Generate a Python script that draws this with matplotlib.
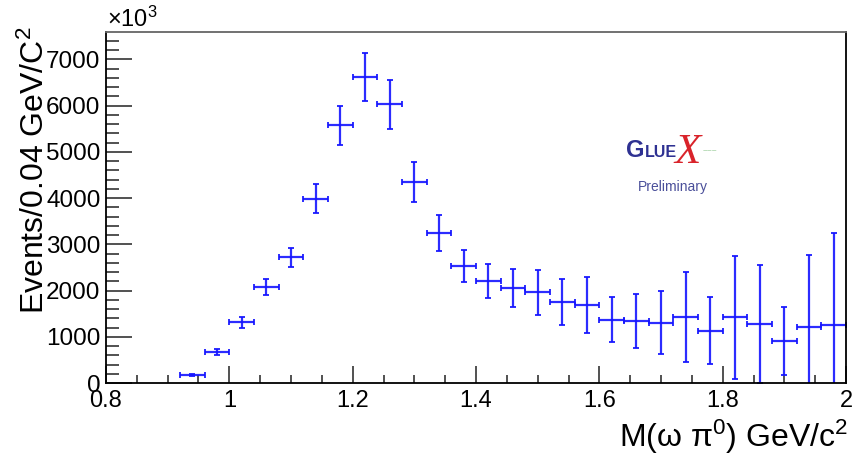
import matplotlib
matplotlib.use("Agg")
import matplotlib.pyplot as plt
from matplotlib.ticker import MultipleLocator

plt.rcParams['font.family'] = ['Liberation Sans', 'DejaVu Sans']
plt.rcParams['mathtext.fontset'] = 'custom'
plt.rcParams['mathtext.rm'] = 'Liberation Sans'
plt.rcParams['mathtext.it'] = 'Liberation Sans:italic'

# ---- data ----
mass = [0.94, 0.98, 1.02, 1.06, 1.10, 1.14, 1.18, 1.22, 1.26, 1.30, 1.34, 1.38,
        1.42, 1.46, 1.50, 1.54, 1.58, 1.62, 1.66, 1.70, 1.74, 1.78, 1.82, 1.86,
        1.90, 1.94, 1.98]
events = [173, 670, 1314, 2078, 2714, 3983, 5570, 6617, 6026, 4350, 3247, 2526,
          2216, 2050, 1963, 1753, 1682, 1372, 1342, 1307, 1422, 1134, 1422, 1270,
          903, 1206, 1249]
errors = [22, 70, 120, 176, 212, 317, 430, 520, 530, 433, 390, 350,
          368, 415, 483, 500, 600, 495, 585, 685, 968, 720, 1335, 1280,
          730, 1570, 2005]
half_bin = [0.02] * len(mass)
x_ticks = [0.8, 1.0, 1.2, 1.4, 1.6, 1.8, 2.0]
x_tick_labels = ['0.8', '1', '1.2', '1.4', '1.6', '1.8', '2']
y_ticks = [0, 1000, 2000, 3000, 4000, 5000, 6000, 7000]

fig = plt.figure(figsize=(8.55, 4.55), dpi=100)
ax = fig.add_axes([106/855, 1-383/455, (846-106)/855, (383-32)/455])

ax.errorbar(mass, events, yerr=errors, xerr=half_bin, fmt='none',
            ecolor='#1515ff', elinewidth=1.6, capsize=2.2, capthick=1.4,
            alpha=0.9)

ax.set_xlim(0.8, 2.0)
ax.set_ylim(0, 7590)
ax.set_xticks(x_ticks)
ax.set_xticklabels(x_tick_labels)
ax.set_yticks(y_ticks)
ax.set_yticklabels([str(v) for v in y_ticks])
ax.xaxis.set_minor_locator(MultipleLocator(0.05))
ax.yaxis.set_minor_locator(MultipleLocator(200))

ax.tick_params(axis='both', which='both', direction='in', top=False, right=False,
               width=1.2, colors='#333333', labelcolor='black')
ax.tick_params(axis='x', which='major', length=12, pad=5, labelsize=17)
ax.tick_params(axis='x', which='minor', length=6)
ax.tick_params(axis='y', which='major', length=19, pad=4, labelsize=17.5)
ax.tick_params(axis='y', which='minor', length=9)
for s in ax.spines.values():
    s.set_linewidth(1.3)
ax.spines['top'].set_color('#666666')

# axis titles
fig.text(848/855, 1-447/455, 'M(ω π$^{0}$) GeV/c$^{2}$', ha='right', va='baseline',
         fontsize=23)
fig.text(35/855, 1-26/455, 'Events/0.04 GeV/C$^{2}$', rotation=90, ha='center',
         va='top', fontsize=23)
fig.text(107/855, 1-27/455, '×10$^{3}$', ha='left', va='baseline', fontsize=17)

# GlueX logo
logo_blue = '#2e3192'
fig.text(626/855, 1-157/455, 'G', ha='left', va='baseline', fontsize=17,
         fontweight='bold', color=logo_blue)
fig.text(645/855, 1-157/455, 'LUE', ha='left', va='baseline', fontsize=11.5,
         fontweight='bold', color=logo_blue)
fig.text(674/855, 1-163/455, 'X', ha='left', va='baseline', fontsize=31,
         family='Liberation Serif', style='italic', color='#d9232a')
fig.text(703/855, 1-152/455, '~~~', ha='left', va='center', fontsize=6,
         color='#7fbf7f')
fig.text(673/855, 1-187/455, 'Preliminary', ha='center', va='center',
         fontsize=10, color='#4a4f9a')

fig.savefig('out.png', dpi=100)
